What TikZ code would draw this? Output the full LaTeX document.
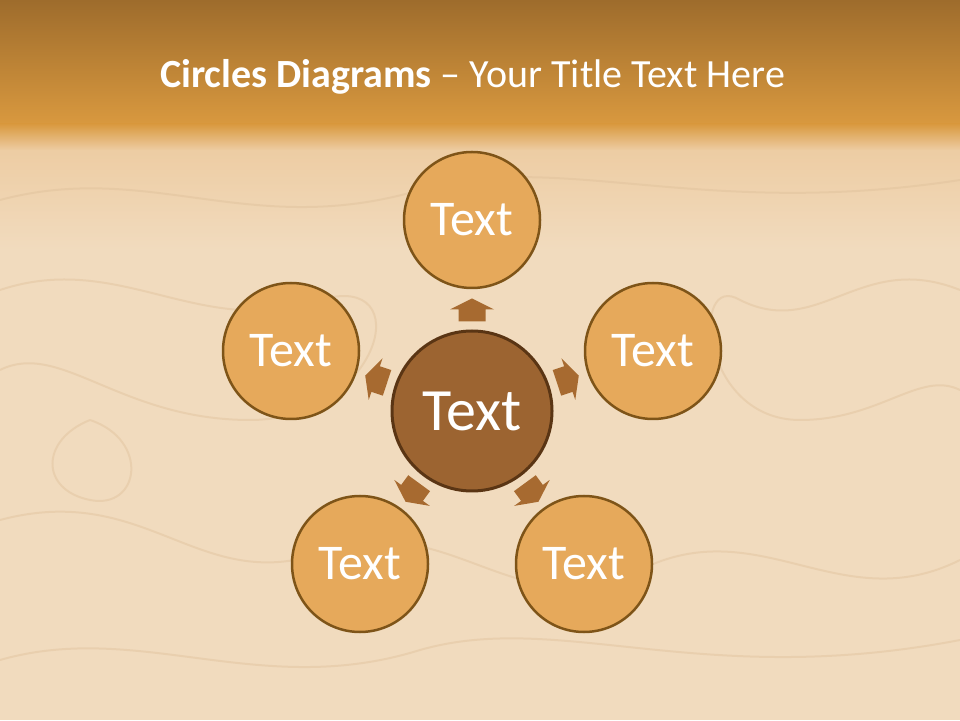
\documentclass[tikz,border=0pt]{standalone}
\usepackage{fontspec}
\setmainfont{Carlito}
\usetikzlibrary{calc}
\definecolor{hdrtop}{HTML}{9E6C2C}
\definecolor{hdrbot}{HTML}{D9993F}
\definecolor{wood}{HTML}{F1DBBE}
\definecolor{woodtop}{HTML}{EDCCA2}
\definecolor{outerfill}{HTML}{E6A95B}
\definecolor{outerline}{HTML}{7E5418}
\definecolor{centerfill}{HTML}{9C6431}
\definecolor{centerline}{HTML}{5A3514}
\definecolor{arrowfill}{HTML}{A76A30}
\definecolor{grain}{HTML}{DDBE98}
\tikzset{
  outercirc/.style={circle, fill=outerfill, draw=outerline, line width=2.5pt,
    minimum size=136pt, inner sep=0pt, text=white, font=\fontsize{50}{54}\selectfont},
  centercirc/.style={circle, fill=centerfill, draw=centerline, line width=3pt,
    minimum size=160pt, inner sep=0pt, text=white, font=\fontsize{60}{64}\selectfont},
  blockarrow/.style={fill=arrowfill},
  grainline/.style={draw=grain, line width=2pt, opacity=0.4},
}
\begin{document}
\begin{tikzpicture}[x=1pt,y=1pt]
\useasboundingbox (0,0) rectangle (960,720);
% background
\fill[wood] (0,0) rectangle (960,720);
\shade[top color=woodtop, bottom color=wood] (0,470) rectangle (960,575);
% faint wood grain
\draw[grainline] (0,520) .. controls (150,560) and (250,480) .. (420,530) .. controls (560,570) and (700,500) .. (960,540);
\draw[grainline] (0,430) .. controls (120,470) and (200,380) .. (320,420) .. controls (420,450) and (380,300) .. (250,300) .. controls (120,300) and (60,380) .. (0,350);
\draw[grainline] (960,430) .. controls (860,470) and (820,380) .. (740,420) .. controls (690,450) and (700,300) .. (800,300) .. controls (880,300) and (920,350) .. (960,330);
\draw[grainline] (0,200) .. controls (150,240) and (200,120) .. (330,170) .. controls (450,210) and (520,90) .. (640,150) .. controls (760,210) and (840,100) .. (960,160);
\draw[grainline] (0,60) .. controls (140,100) and (260,20) .. (420,70) .. controls (560,110) and (700,30) .. (960,80);
\draw[grainline] (90,300) .. controls (40,280) and (40,230) .. (90,220) .. controls (140,210) and (150,280) .. (90,300);
% header
\shade[top color=hdrtop, bottom color=hdrbot] (0,595) rectangle (960,720);
\shade[top color=hdrbot, bottom color=woodtop] (0,570) rectangle (960,596);
% title
\node[text=white, font=\fontsize{40}{46}\selectfont, anchor=base west, inner sep=0pt] (title) at (160,632)
  {\textbf{Circles Diagrams} – Your Title Text Here};
% circles
\node[centercirc] (C) at (472,309) {Text};
\node[outercirc] (T) at (472,500) {Text};
\node[outercirc] (R) at (653,369) {Text};
\node[outercirc] (L) at (291,369) {Text};
\node[outercirc] (LL) at (360,156) {Text};
\node[outercirc] (LR) at (584,156) {Text};
% block arrows
\foreach \tgt/\ang in {T/90, R/18.34, L/161.66, LL/233.8, LR/306.2}{
  \fill[blockarrow, shift={($(C.center)!101pt!(\tgt.center)$)}, rotate=\ang]
    (-11.5,-13.5) -- (0.5,-13.5) -- (0.5,-22) -- (11.5,0) -- (0.5,22) -- (0.5,13.5) -- (-11.5,13.5) -- cycle;
}
\end{tikzpicture}
\end{document}
